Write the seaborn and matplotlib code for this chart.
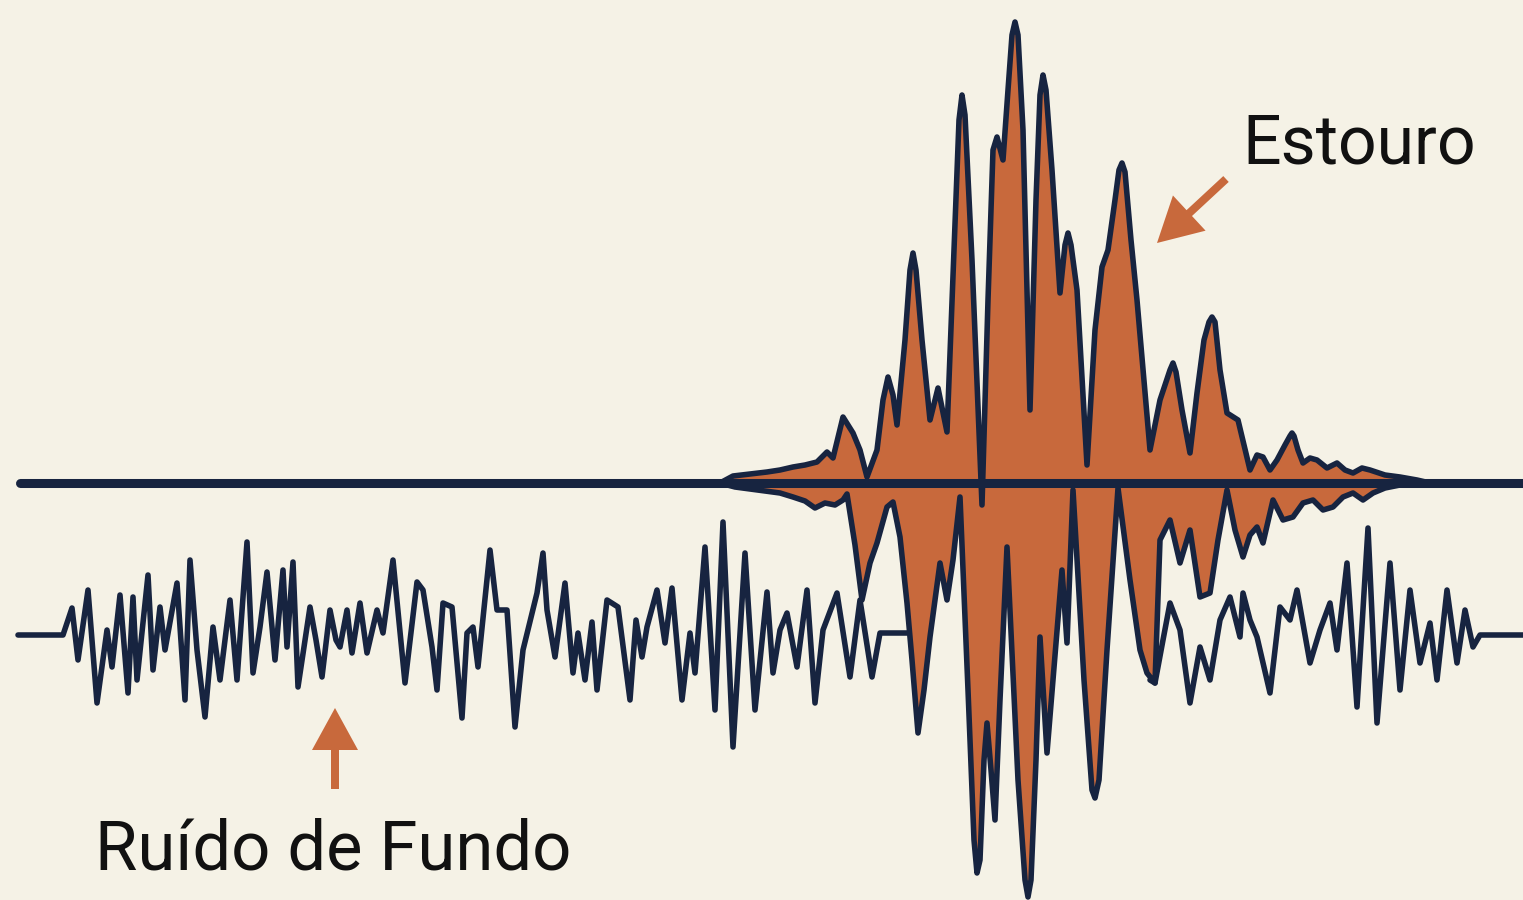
import matplotlib
matplotlib.use("Agg")
import matplotlib.pyplot as plt
import pandas as pd
import seaborn as sns

sns.set_style("white")
plt.rcParams['font.family'] = ['Roboto', 'DejaVu Sans']

# colours
bg = '#F5F2E6'
navy = '#172440'
orange = '#C8693C'

# upper trace of the burst (x, y in picture units, y grows downwards)
top_x = [720, 733, 750, 767, 780, 793, 805, 817, 827, 833, 843, 853, 860, 867, 877, 883, 888, 893,
         897, 905, 910, 913, 916, 922, 930, 938, 947, 954, 959, 962, 965, 972, 982, 988, 993, 997,
         1003, 1008, 1012, 1015, 1018, 1023, 1030, 1036, 1040, 1043, 1046, 1052, 1060, 1065, 1068,
         1071, 1077, 1087, 1095, 1102, 1108, 1115, 1119, 1122, 1125, 1131, 1137, 1150, 1160, 1170,
         1173, 1176, 1182, 1190, 1197, 1204, 1209, 1212, 1215, 1220, 1227, 1238, 1250, 1257, 1263,
         1270, 1277, 1285, 1290, 1292, 1294, 1298, 1303, 1310, 1317, 1327, 1337, 1345, 1353, 1362,
         1370, 1385, 1400, 1417, 1430]
top_y = [483, 476, 474, 472, 470, 467, 465, 462, 452, 458, 417, 433, 450, 477, 450, 400, 377, 395,
         425, 340, 270, 253, 270, 340, 420, 388, 432, 250, 120, 95, 115, 260, 505, 300, 150, 137,
         160, 90, 35, 22, 35, 130, 410, 200, 95, 75, 90, 170, 293, 245, 233, 245, 290, 465, 330,
         267, 250, 200, 170, 163, 172, 240, 300, 450, 400, 370, 363, 372, 410, 453, 393, 340, 322,
         317, 322, 370, 413, 420, 470, 455, 457, 470, 460, 445, 436, 433, 436, 450, 463, 458, 460,
         468, 463, 470, 473, 468, 470, 475, 477, 480, 483]

# lower trace of the burst
bot_x = [720, 735, 750, 765, 780, 793, 805, 815, 825, 835, 843, 847, 855, 862, 870, 877, 887, 893,
         900, 907, 912, 918, 924, 930, 940, 947, 953, 960, 968, 974, 977, 980, 984, 987, 991, 995,
         1000, 1007, 1018, 1025, 1028, 1031, 1036, 1040, 1047, 1062, 1067, 1073, 1084, 1092, 1095,
         1099, 1107, 1118, 1130, 1140, 1147, 1155, 1160, 1170, 1180, 1190, 1200, 1210, 1218, 1227,
         1235, 1243, 1250, 1257, 1263, 1273, 1283, 1293, 1303, 1313, 1323, 1333, 1343, 1353, 1363,
         1373, 1385, 1400, 1430]
bot_y = [483, 487, 489, 491, 493, 497, 501, 508, 503, 505, 500, 494, 545, 600, 563, 543, 507, 502,
         537, 603, 660, 733, 690, 637, 563, 600, 560, 497, 690, 840, 873, 860, 760, 723, 770, 820,
         700, 547, 780, 880, 897, 880, 760, 637, 753, 570, 643, 490, 680, 790, 798, 780, 650, 488,
         580, 650, 673, 683, 540, 520, 563, 530, 597, 593, 540, 490, 530, 557, 535, 527, 543, 500,
         520, 517, 503, 500, 510, 507, 497, 493, 500, 493, 488, 485, 483]

# background noise, left part
noise_l_x = [18, 63, 72, 78, 88, 97, 107, 112, 120, 128, 133, 137, 148, 153, 160, 165, 177, 185, 190,
             197, 205, 213, 220, 230, 237, 247, 253, 260, 267, 275, 283, 287, 293, 298, 310, 316, 322,
             330, 336, 340, 347, 352, 360, 367, 377, 383, 393, 405, 417, 423, 432, 437, 443, 452, 462,
             467, 473, 478, 490, 497, 507, 515, 523, 537, 543, 547, 555, 565, 573, 578, 585, 592, 597,
             607, 618, 630, 636, 642, 647, 657, 665, 672, 682, 690, 695, 705, 715, 723, 733, 745, 755,
             767, 773, 780, 787, 797, 807, 815, 823, 837, 850, 860, 872, 880, 907]
noise_l_y = [635, 635, 608, 660, 590, 703, 630, 667, 595, 693, 597, 680, 575, 670, 607, 650, 583, 700,
             560, 650, 717, 627, 680, 600, 680, 542, 673, 627, 572, 660, 570, 647, 562, 687, 607, 640,
             677, 610, 640, 647, 610, 653, 603, 653, 610, 633, 560, 683, 582, 590, 647, 690, 603, 607,
             718, 633, 627, 667, 550, 610, 610, 727, 650, 593, 553, 610, 657, 583, 673, 633, 680, 622,
             690, 600, 607, 700, 620, 657, 627, 590, 643, 588, 700, 633, 673, 547, 710, 522, 747, 553,
             710, 592, 673, 630, 613, 667, 590, 703, 630, 593, 677, 600, 677, 633, 633]

# background noise, right part
noise_r_x = [1150, 1155, 1163, 1170, 1180, 1190, 1200, 1210, 1220, 1230, 1240, 1243, 1250, 1257, 1270,
             1280, 1290, 1297, 1310, 1320, 1330, 1337, 1347, 1357, 1368, 1377, 1390, 1400, 1410, 1420,
             1430, 1437, 1447, 1457, 1465, 1473, 1480, 1523]
noise_r_y = [680, 683, 640, 603, 630, 703, 647, 680, 620, 597, 637, 593, 620, 637, 693, 607, 620, 590,
             663, 630, 603, 650, 563, 707, 528, 723, 563, 690, 590, 663, 623, 680, 590, 663, 610, 647,
             635, 635]

baseline_x = [20, 1523]
baseline_y = [483, 483]

labels = ['Estouro', 'Ruído de Fundo']

fig = plt.figure(figsize=(15.23, 9), dpi=100, facecolor=bg)
ax = fig.add_axes([0, 0, 1, 1])
ax.set_facecolor(bg)

# orange burst body
poly_x = top_x + bot_x[::-1]
poly_y = top_y + bot_y[::-1]
ax.fill(poly_x, poly_y, color=orange, lw=0, zorder=1)

sns.lineplot(x=baseline_x, y=baseline_y, color=navy, lw=6.5, ax=ax, zorder=2)
line_kw = dict(color=navy, lw=4, sort=False, estimator=None, ax=ax, zorder=3)
sns.lineplot(x=noise_l_x, y=noise_l_y, **line_kw)
sns.lineplot(x=noise_r_x, y=noise_r_y, **line_kw)
sns.lineplot(x=bot_x, y=bot_y, **line_kw)
sns.lineplot(x=top_x, y=top_y, **line_kw)
for ln in ax.lines:
    ln.set_solid_joinstyle('round')
    ln.set_solid_capstyle('round')

# arrows
ax.arrow(1226, 179, -69, 64, width=8, head_width=48, head_length=44,
         length_includes_head=True, color=orange, lw=0, zorder=4)
ax.arrow(335, 789, 0, -81, width=8, head_width=46, head_length=42,
         length_includes_head=True, color=orange, lw=0, zorder=4)

ax.text(1242, 163, labels[0], fontsize=49, color='#111111', ha='left', va='baseline')
ax.text(95, 870, labels[1], fontsize=49.5, color='#111111', ha='left', va='baseline')

ax.set_xlim(0, 1523)
ax.set_ylim(900, 0)
ax.axis('off')
if ax.get_legend():
    ax.get_legend().remove()

fig.savefig('out.png', dpi=100, facecolor=bg)
